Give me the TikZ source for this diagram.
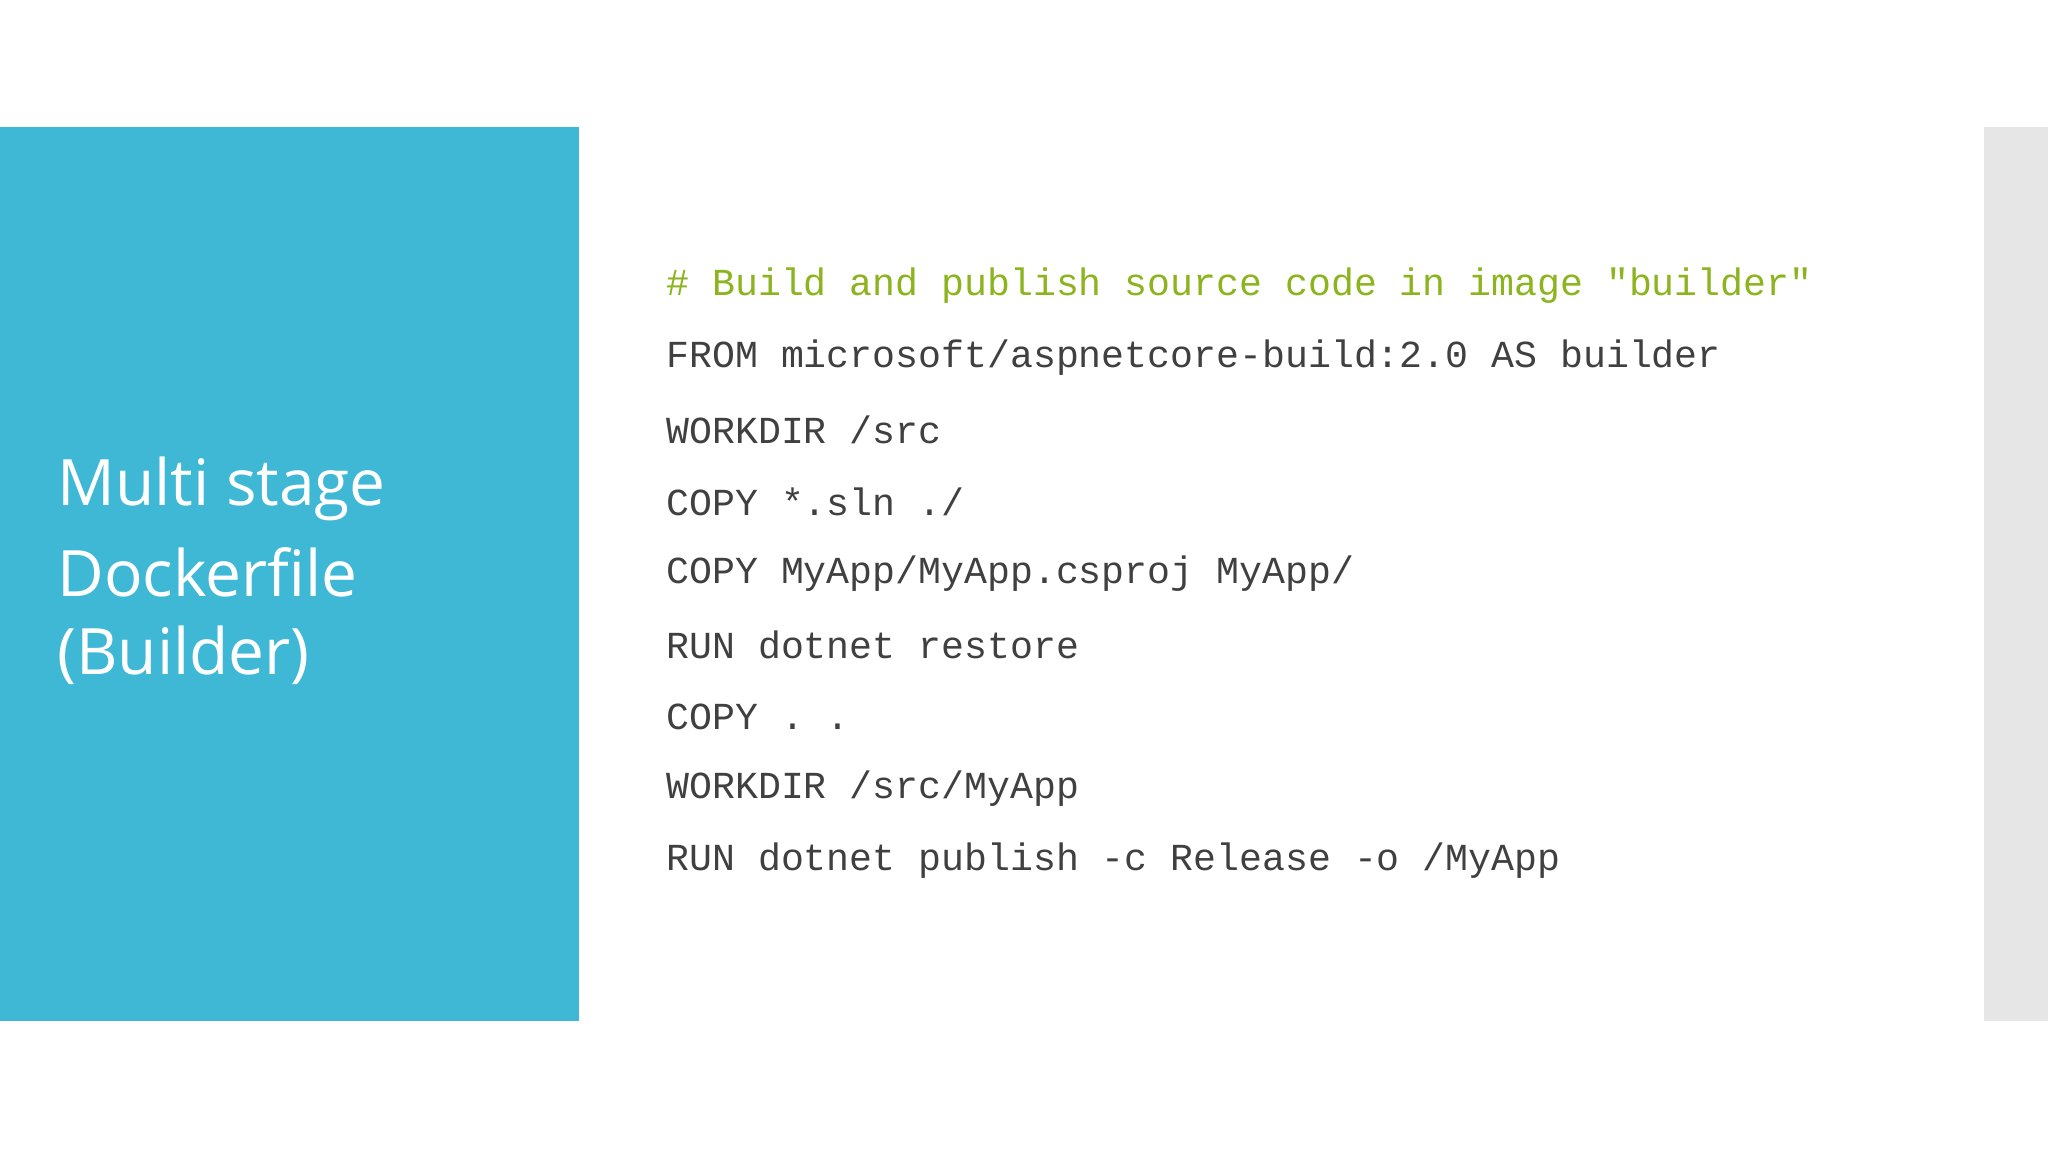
\documentclass[tikz,border=0pt]{standalone}
\usepackage{fontspec}
\setmainfont{Open Sans}
\newfontfamily\codefont{Liberation Mono}
\definecolor{tealblue}{HTML}{3EB8D5}
\definecolor{sidegray}{HTML}{E6E6E6}
\definecolor{codegreen}{HTML}{8CB41E}
\definecolor{codegray}{HTML}{404040}
\begin{document}
\begin{tikzpicture}[x=0.5pt,y=-0.5pt,
  codeline/.style={anchor=west,inner sep=0pt,font=\codefont\fontsize{19.1}{22}\selectfont,text=codegray},
  titleline/.style={anchor=west,inner sep=0pt,text=white,font=\fontsize{32}{40}\selectfont}]
\useasboundingbox (0,0) rectangle (2048,1152);
\fill[white] (0,0) rectangle (2048,1152);
\fill[tealblue] (0,127) rectangle (579,1021);
\fill[sidegray] (1984,127) rectangle (2048,1021);
\node[titleline] (t1) at (57,489) {Multi stage};
\node[titleline] (t2) at (57,572) {Dockerfile};
\node[titleline] (t3) at (57,655) {(Builder)};
\node[codeline,text=codegreen] (c0) at (666,286) {\# Build and publish source code in image "builder"};
\node[codeline] (c1) at (666,358) {FROM microsoft/aspnetcore-build:2.0 AS builder};
\node[codeline] (c2) at (666,430) {WORKDIR /src};
\node[codeline] (c3) at (666,502) {COPY *.sln ./};
\node[codeline] (c4) at (666,574) {COPY MyApp/MyApp.csproj MyApp/};
\node[codeline] (c5) at (666,645) {RUN dotnet restore};
\node[codeline] (c6) at (666,717) {COPY . .};
\node[codeline] (c7) at (666,789) {WORKDIR /src/MyApp};
\node[codeline] (c8) at (666,861) {RUN dotnet publish -c Release -o /MyApp};
\end{tikzpicture}
\end{document}
